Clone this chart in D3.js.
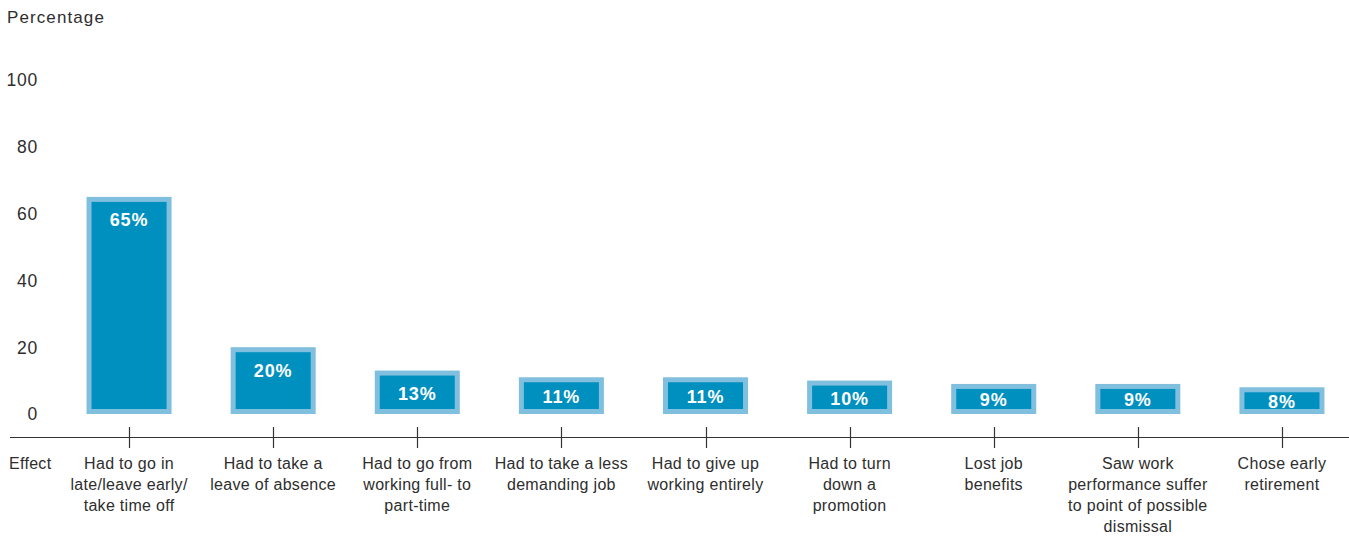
<!DOCTYPE html>
<html><head><meta charset="utf-8">
<script src="https://cdn.jsdelivr.net/npm/d3@7"></script>
<style>
body{margin:0;background:#fff;}
svg text{font-family:"Liberation Sans",Arial,sans-serif;}
</style></head>
<body><svg id="chart" width="1349" height="538"></svg>
<script>
const categories = [
  ["Had to go in","late/leave early/","take time off"],
  ["Had to take a","leave of absence"],
  ["Had to go from","working full- to","part-time"],
  ["Had to take a less","demanding job"],
  ["Had to give up","working entirely"],
  ["Had to turn","down a","promotion"],
  ["Lost job","benefits"],
  ["Saw work","performance suffer","to point of possible","dismissal"],
  ["Chose early","retirement"]
];
const values = [65, 20, 13, 11, 11, 10, 9, 9, 8];
const yTicks = [0, 20, 40, 60, 80, 100];
const yTitle = "Percentage";
const xTitle = "Effect";

const svg = d3.select("#chart");
const x = d3.scaleBand().domain(d3.range(values.length)).range([57, 1354]).paddingInner(0.41).paddingOuter(0.205);
const y = d3.scaleLinear().domain([0, 100]).range([414, 80]);
const textColor = "#2e2e2e";

svg.append("text").attr("x", 7).attr("y", 23).attr("font-size", 17).attr("letter-spacing", 1.1)
  .attr("fill", textColor).text(yTitle);

svg.selectAll("text.ytick").data(yTicks).join("text").attr("class","ytick")
  .attr("x", 38).attr("y", d => y(d)).attr("dy", "0.36em").attr("text-anchor","end")
  .attr("font-size", 17.5).attr("letter-spacing", 0.8).attr("fill", textColor).text(d => d);

const bw = x.bandwidth();
const cx = i => x(i) + bw / 2;
const b = 5;
const g = svg.append("g");
g.selectAll("rect.outer").data(values).join("rect").attr("class","outer")
  .attr("x", (d,i) => x(i)).attr("y", d => y(d)).attr("width", bw).attr("height", d => y(0) - y(d))
  .attr("fill", "#80bfdd");
g.selectAll("rect.inner").data(values).join("rect").attr("class","inner")
  .attr("x", (d,i) => x(i) + b).attr("y", d => y(d) + b).attr("width", bw - 2*b)
  .attr("height", d => Math.max(0, y(0) - y(d) - 2*b))
  .attr("fill", "#0090bf");
g.selectAll("text.val").data(values).join("text").attr("class","val")
  .attr("x", (d,i) => cx(i))
  .attr("y", d => Math.min(y(d) + 23, (y(d) + y(0)) / 2 + 1))
  .attr("dy", "0.36em").attr("text-anchor","middle")
  .attr("font-size", 18).attr("font-weight","bold").attr("letter-spacing", 0.9)
  .attr("fill", "#fff").text(d => d + "%");

// x axis
svg.append("line").attr("x1", 10).attr("x2", 1349).attr("y1", 437.5).attr("y2", 437.5)
  .attr("stroke", "#333").attr("stroke-width", 1.2);
svg.selectAll("line.tick").data(values).join("line").attr("class","tick")
  .attr("x1", (d,i) => Math.round(cx(i)) + 0.5).attr("x2", (d,i) => Math.round(cx(i)) + 0.5)
  .attr("y1", 427).attr("y2", 448).attr("stroke", "#333").attr("stroke-width", 1.2);

svg.append("text").attr("x", 9).attr("y", 469).attr("font-size", 16).attr("letter-spacing", 0.3)
  .attr("fill", textColor).text(xTitle);

const lab = svg.selectAll("text.cat").data(categories).join("text").attr("class","cat")
  .attr("x", (d,i) => cx(i)).attr("y", 469).attr("text-anchor","middle")
  .attr("font-size", 16).attr("letter-spacing", 0.3).attr("fill", textColor);
lab.selectAll("tspan").data(d => d).join("tspan")
  .attr("x", function(){ return d3.select(this.parentNode).attr("x"); })
  .attr("dy", (d,j) => j === 0 ? 0 : 21).text(d => d);
</script></body></html>
